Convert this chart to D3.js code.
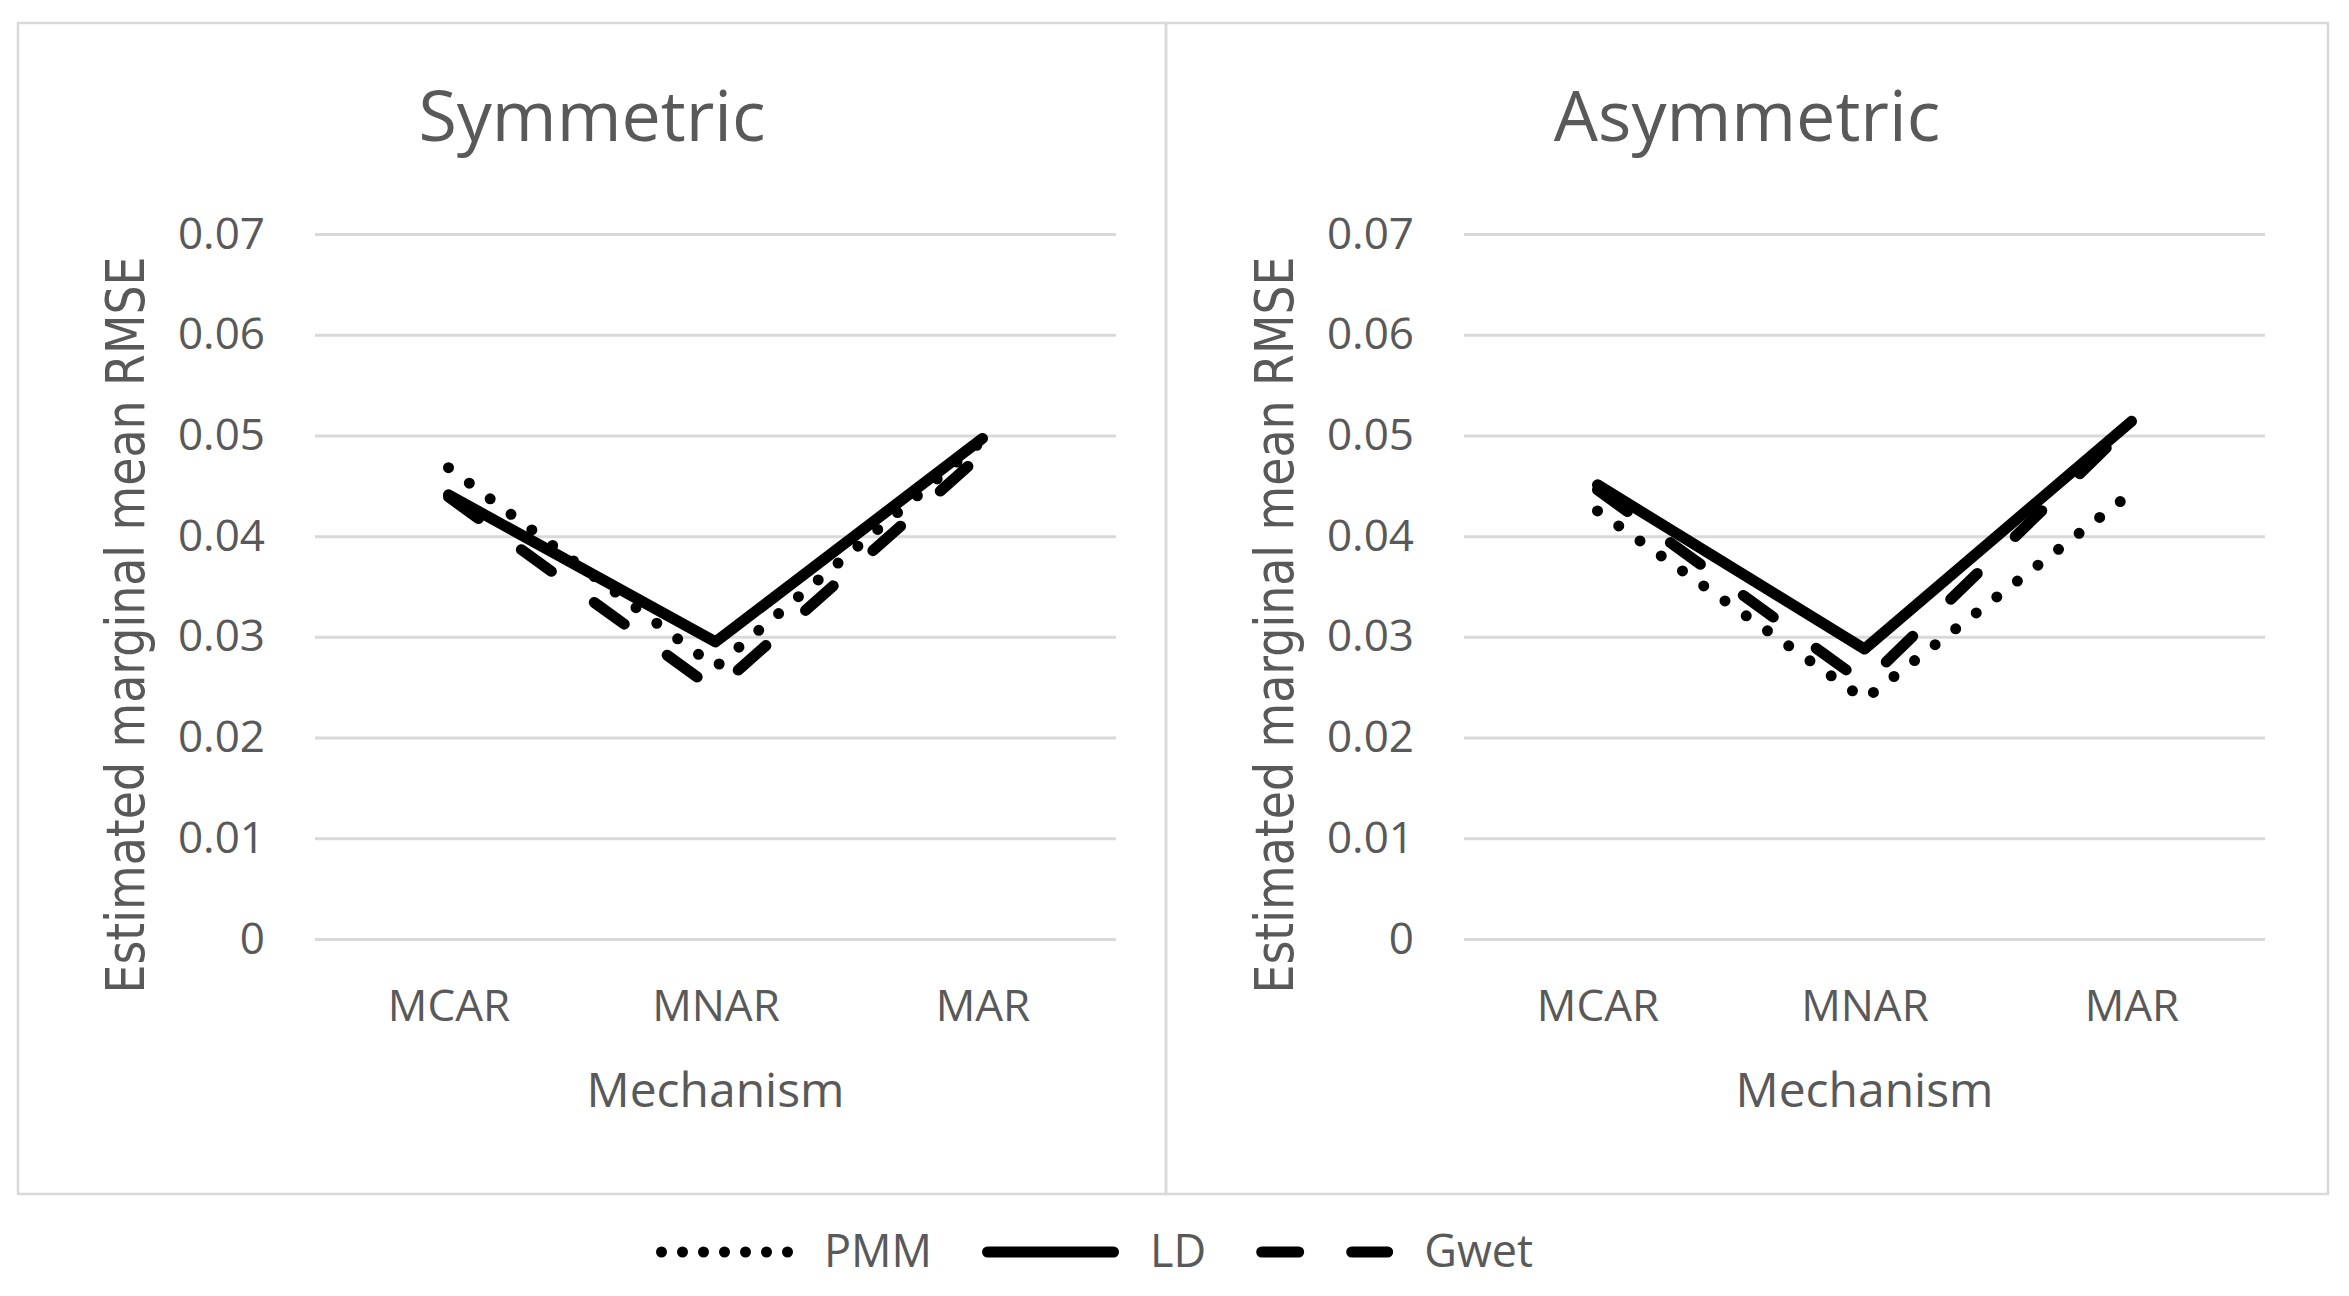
<!DOCTYPE html>
<html>
<head>
<meta charset="utf-8">
<script src="https://cdn.jsdelivr.net/npm/d3@7"></script>
<style>
  html, body { margin: 0; padding: 0; background: #ffffff; }
  svg { display: block; }
</style>
</head>
<body>
<script>
// ---------------- data ----------------
const categories = ["MCAR", "MNAR", "MAR"];
const panelTitles = ["Symmetric", "Asymmetric"];
const seriesNames = ["PMM", "LD", "Gwet"];
const yTicks = [0, 0.01, 0.02, 0.03, 0.04, 0.05, 0.06, 0.07];
const yTickLabels = ["0", "0.01", "0.02", "0.03", "0.04", "0.05", "0.06", "0.07"];

const symmetricPMM  = [0.0468, 0.0270, 0.0495];
const symmetricLD   = [0.0441, 0.0295, 0.0497];
const symmetricGwet = [0.0439, 0.0247, 0.0482];

const asymmetricPMM  = [0.0425, 0.0238, 0.0443];
const asymmetricLD   = [0.0451, 0.0288, 0.0514];
const asymmetricGwet = [0.0446, 0.0254, 0.0512];

const yTitle = "Estimated marginal mean RMSE";
const xTitle = "Mechanism";

// ---------------- layout / style ----------------
const W = 2349, H = 1296;
const grey = "#d9d9d9";
const textGrey = "#595959";
const lineW = 11;
const styles = {
  PMM:  { dash: "0,26", legendDash: "0,21" },
  LD:   { dash: null,   legendDash: null },
  Gwet: { dash: "37,53", legendDash: "37,53" }
};

const panelData = [
  { title: panelTitles[0], series: [symmetricPMM, symmetricLD, symmetricGwet] },
  { title: panelTitles[1], series: [asymmetricPMM, asymmetricLD, asymmetricGwet] }
];

const boxTop = 23, boxBottom = 1194;
const boxes = [[18, 1166], [1166, 2328]];
const plotLeft0 = 315, plotWidth = 801, panelShift = 1149;
const plotTop = 234, plotBottom = 939;

const svg = d3.select("body").append("svg")
  .attr("width", W).attr("height", H)
  .attr("viewBox", `0 0 ${W} ${H}`);

svg.append("rect").attr("width", W).attr("height", H).attr("fill", "#fff");

const y = d3.scaleLinear().domain([0, 0.07]).range([plotBottom, plotTop]);

panelData.forEach((p, i) => {
  const [bx0, bx1] = boxes[i];
  svg.append("rect")
    .attr("x", bx0).attr("y", boxTop)
    .attr("width", bx1 - bx0).attr("height", boxBottom - boxTop)
    .attr("fill", "none").attr("stroke", grey).attr("stroke-width", 2.5);

  const left = plotLeft0 + i * panelShift;
  const x = d3.scalePoint().domain(categories).range([left, left + plotWidth]).padding(0.5);

  const g = svg.append("g");

  // title
  g.append("text")
    .attr("x", (bx0 + bx1) / 2).attr("y", 141)
    .attr("text-anchor", "middle")
    .attr("font-family", "'Open Sans', sans-serif")
    .attr("font-size", 70)
    .attr("fill", textGrey)
    .text(p.title);

  // y axis with gridlines
  const yAxis = d3.axisLeft(y)
    .tickValues(yTicks)
    .tickFormat((d, k) => yTickLabels[k])
    .tickSizeInner(-plotWidth).tickSizeOuter(0)
    .tickPadding(50);
  const ya = g.append("g").attr("transform", `translate(${left},0)`).call(yAxis);
  ya.select(".domain").remove();
  ya.selectAll(".tick line").attr("stroke", grey).attr("stroke-width", 3);
  ya.selectAll(".tick text")
    .attr("font-family", "'Open Sans', sans-serif")
    .attr("font-size", 44)
    .attr("fill", textGrey);

  // x axis labels
  const xAxis = d3.axisBottom(x).tickSize(0).tickPadding(51);
  const xa = g.append("g").attr("transform", `translate(0,${plotBottom})`).call(xAxis);
  xa.select(".domain").remove();
  xa.selectAll(".tick text")
    .attr("font-family", "'Open Sans', sans-serif")
    .attr("font-size", 44)
    .attr("fill", textGrey);

  // axis titles
  g.append("text")
    .attr("x", left + plotWidth / 2).attr("y", 1107)
    .attr("text-anchor", "middle")
    .attr("font-family", "'Open Sans', sans-serif")
    .attr("font-size", 48)
    .attr("fill", textGrey)
    .text(xTitle);

  g.append("text")
    .attr("transform", `translate(${144 + i * panelShift},625) rotate(-90)`)
    .attr("text-anchor", "middle")
    .attr("font-family", "'DejaVu Sans', sans-serif")
    .attr("font-size", 53)
    .attr("textLength", 737)
    .attr("lengthAdjust", "spacingAndGlyphs")
    .attr("fill", textGrey)
    .text(yTitle);

  // series lines
  const line = d3.line().x((d, k) => x(categories[k])).y(d => y(d));
  p.series.forEach((vals, s) => {
    const st = styles[seriesNames[s]];
    g.append("path")
      .datum(vals)
      .attr("d", line)
      .attr("fill", "none")
      .attr("stroke", "#000")
      .attr("stroke-width", lineW)
      .attr("stroke-linecap", "round")
      .attr("stroke-linejoin", "round")
      .attr("stroke-dasharray", st.dash);
  });
});

// legend
const legendY = 1252;
let cx = 656;
const sampleLen = 137;
seriesNames.forEach((name) => {
  const st = styles[name];
  svg.append("line")
    .attr("x1", cx + lineW / 2).attr("x2", cx + sampleLen - lineW / 2 + (name === "PMM" ? 0.5 : 0))
    .attr("y1", legendY).attr("y2", legendY)
    .attr("stroke", "#000").attr("stroke-width", lineW)
    .attr("stroke-linecap", "round")
    .attr("stroke-dasharray", st.legendDash);
  const t = svg.append("text")
    .attr("x", cx + sampleLen + 31).attr("y", 1267)
    .attr("font-family", "'Open Sans', sans-serif")
    .attr("font-size", 45)
    .attr("fill", textGrey)
    .text(name);
  cx = cx + sampleLen + 31 + t.node().getComputedTextLength() + 50;
});
</script>
</body>
</html>
